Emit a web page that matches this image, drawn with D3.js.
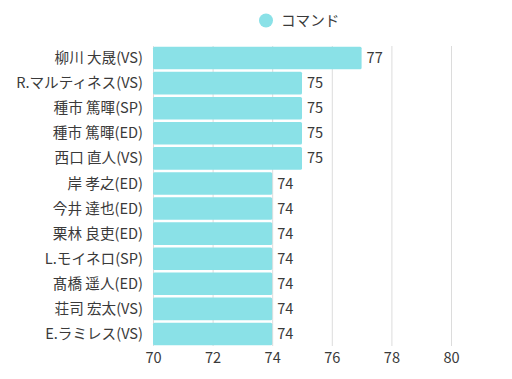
<!DOCTYPE html>
<html><head><meta charset="utf-8">
<script src="https://cdn.jsdelivr.net/npm/d3@7"></script>
<style>body{margin:0;background:#fff}svg{display:block}text{font-family:"Noto Sans CJK JP","Noto Sans",sans-serif}</style>
</head><body>
<svg id="c" width="512" height="379"></svg>
<script>
const categories = ["柳川 大晟(VS)","R.マルティネス(VS)","種市 篤暉(SP)","種市 篤暉(ED)","西口 直人(VS)","岸 孝之(ED)","今井 達也(ED)","栗林 良吏(ED)","L.モイネロ(SP)","髙橋 遥人(ED)","荘司 宏太(VS)","E.ラミレス(VS)"];
const values = [77,75,75,75,75,74,74,74,74,74,74,74];
const xTicks = [70,72,74,76,78,80];
const seriesName = "コマンド";
const color = "#8ae1e7";
const fs = 14.6;
const tc = "#3a3a3a";

const svg = d3.select("#c");
const x = d3.scaleLinear().domain([70,80]).range([153,451]);
const y = d3.scaleBand().domain(categories).range([46,346]).paddingInner(0.1).paddingOuter(0.03);

// grid
svg.append("g").selectAll("line").data(xTicks).join("line")
  .attr("x1",d=>x(d)+0.5).attr("x2",d=>x(d)+0.5)
  .attr("y1",46).attr("y2",346)
  .attr("stroke","#dcdcdc").attr("stroke-width",1);

// bars
svg.append("g").selectAll("rect").data(values).join("rect")
  .attr("x",x(70)).attr("y",(d,i)=>y(categories[i]))
  .attr("width",d=>x(d)-x(70)).attr("height",y.bandwidth())
  .attr("rx",1.5)
  .attr("fill",color);

// value labels
svg.append("g").selectAll("text").data(values).join("text")
  .attr("x",d=>x(d)+5).attr("y",(d,i)=>y(categories[i])+y.bandwidth()/2)
  .attr("dy","0.35em").attr("font-size",fs).attr("fill",tc)
  .text(d=>d);

// y axis labels
svg.append("g").selectAll("text").data(categories).join("text")
  .attr("x",143).attr("y",d=>y(d)+y.bandwidth()/2)
  .attr("dy","0.35em").attr("text-anchor","end").attr("font-size",fs).attr("fill",tc)
  .text(d=>d);

// x axis
const xAxis = d3.axisBottom(x).tickValues(xTicks).tickSize(0).tickPadding(7).tickFormat(d3.format("d"));
const gx = svg.append("g").attr("transform","translate(0,346)").call(xAxis);
gx.select(".domain").remove();
gx.selectAll("text").attr("font-size",fs).attr("fill",tc).attr("font-family",'"Noto Sans CJK JP","Noto Sans",sans-serif');

// legend
const lg = svg.append("g");
lg.append("circle").attr("cx",266).attr("cy",20.5).attr("r",7).attr("fill",color);
lg.append("text").attr("x",281).attr("y",20.5).attr("dy","0.35em").attr("font-size",fs).attr("fill",tc).text(seriesName);
</script>
</body></html>
